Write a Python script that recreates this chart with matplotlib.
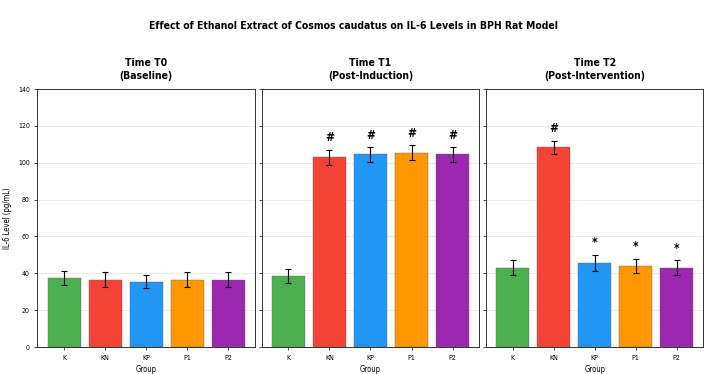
import numpy as np
import matplotlib.pyplot as plt

# data
groups = ['K', 'KN', 'KP', 'P1', 'P2']
colors = ['#4CAF50', '#F44336', '#2196F3', '#FF9800', '#9C27B0']
panel_titles = ['Time T0\n(Baseline)', 'Time T1\n(Post-Induction)', 'Time T2\n(Post-Intervention)']

t0_mean = [37.5, 36.5, 35.5, 36.5, 36.5]
t0_sd = [4.0, 4.0, 3.5, 4.0, 4.0]
t1_mean = [38.5, 103.0, 104.5, 105.5, 104.5]
t1_sd = [4.0, 4.0, 4.0, 4.0, 4.0]
t2_mean = [43.0, 108.5, 45.5, 44.0, 43.0]
t2_sd = [4.0, 3.5, 4.5, 4.0, 4.0]
t1_marks = ['', '#', '#', '#', '#']
t2_marks = ['', '#', '*', '*', '*']

means = [t0_mean, t1_mean, t2_mean]
sds = [t0_sd, t1_sd, t2_sd]
marks = [['', '', '', '', ''], t1_marks, t2_marks]

cond = dict(family='DejaVu Sans', stretch='condensed')

fig, axes = plt.subplots(1, 3, figsize=(7.07, 3.74), dpi=100, sharey=True)
fig.subplots_adjust(left=0.053, right=0.995, top=0.762, bottom=0.072, wspace=0.03)

x = np.arange(len(groups))
for ax, m, s, mk, title in zip(axes, means, sds, marks, panel_titles):
    ax.set_axisbelow(True)
    ax.grid(axis='y', color='#e6e6e6', linewidth=0.6)
    ax.bar(x, m, 0.8, yerr=s, color=colors, edgecolor='#666666', linewidth=0.3,
           capsize=2, error_kw={'elinewidth': 0.8, 'capthick': 0.8, 'ecolor': 'black'})
    for xi, mi, si, t in zip(x, m, s, mk):
        if t:
            ax.text(xi, mi + si + 3, t, ha='center', va='bottom',
                    fontsize=8.5, fontweight='bold', **cond)
    ax.set_title(title, fontsize=7.5, fontweight='bold', pad=7,
                 linespacing=1.35, **cond)
    ax.set_xticks(x)
    ax.set_xticklabels(groups, fontsize=5, **cond)
    ax.set_xlabel('Group', fontsize=5.5, labelpad=3, **cond)
    ax.set_xlim(-0.65, 4.65)
    ax.set_ylim(0, 140)
    ax.set_yticks(np.arange(0, 141, 20))
    ax.tick_params(axis='both', length=2.5, width=0.5, pad=3, labelsize=5)
    for sp in ax.spines.values():
        sp.set_linewidth(0.7)
        sp.set_color('#333333')

axes[0].set_ylabel('IL-6 Level (pg/mL)', fontsize=5.5, labelpad=4, **cond)
for lab in axes[0].get_yticklabels():
    lab.set_fontstretch('condensed')

fig.suptitle('Effect of Ethanol Extract of Cosmos caudatus on IL-6 Levels in BPH Rat Model',
             fontsize=7.5, fontweight='bold', y=0.945, **cond)

fig.savefig('out.png', dpi=100)
